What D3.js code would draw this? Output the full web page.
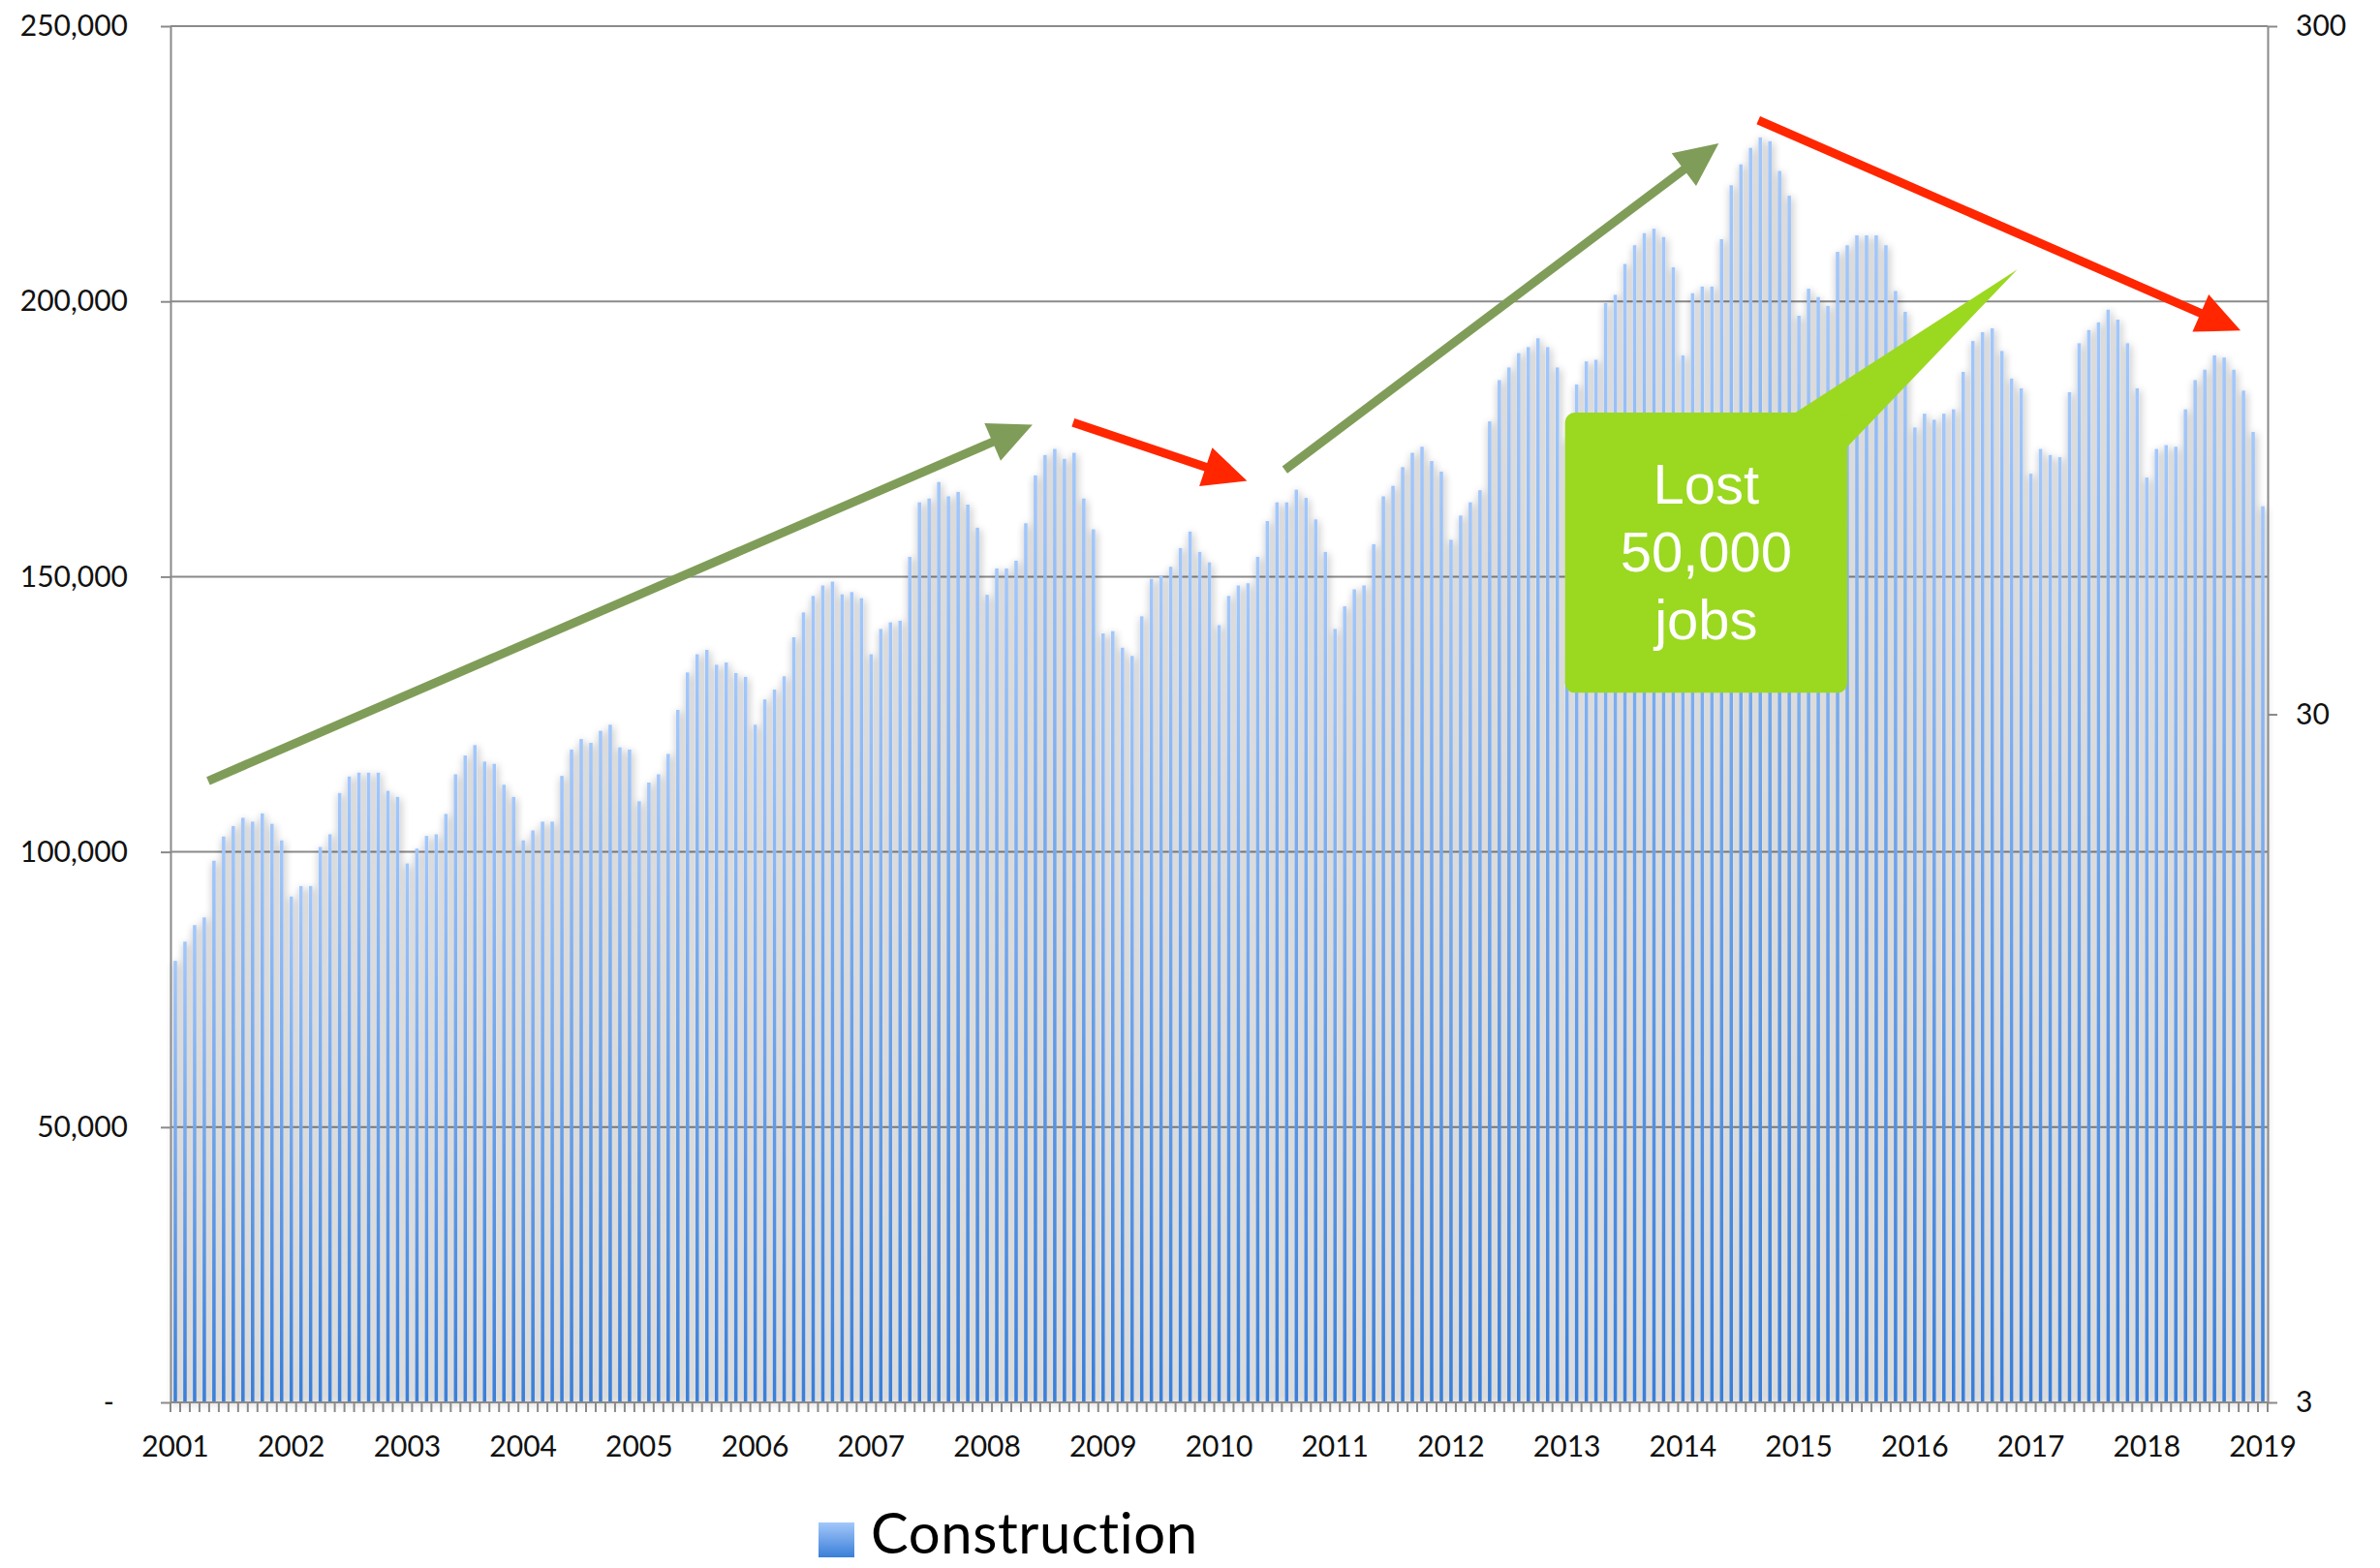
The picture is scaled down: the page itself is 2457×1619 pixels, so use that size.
<!DOCTYPE html>
<html>
<head>
<meta charset="utf-8">
<script src="https://cdn.jsdelivr.net/npm/d3@7"></script>
<style>
  body { margin: 0; background: #fff; }
  svg { display: block; }
  text { font-family: Lato, "Open Sans", sans-serif; }
</style>
</head>
<body>
<svg id="chart" width="2457" height="1619"></svg>
<script>
// year labels on the x axis (one per January)
var years = [2001, 2002, 2003, 2004, 2005, 2006, 2007, 2008, 2009, 2010,
             2011, 2012, 2013, 2014, 2015, 2016, 2017, 2018, 2019];

// monthly construction jobs, Jan 2001 .. Jan 2019
var construction = [
  80200, 83700, 86700, 88100, 98400, 102800, 104700, 106200, 105500, 107000, 105100, 102100,   // 2001
  91900, 93800, 93800, 100900, 103200, 110700, 113700, 114400, 114400, 114400, 111100, 110000, // 2002
  97900, 100600, 102900, 103200, 106900, 114100, 117500, 119400, 116400, 116000, 112200, 110000, // 2003
  102100, 103900, 105500, 105500, 113800, 118600, 120500, 119800, 122000, 123100, 119000, 118600, // 2004
  109200, 112600, 114100, 117800, 125800, 132600, 135900, 136700, 134000, 134400, 132500, 131800, // 2005
  123100, 127700, 129500, 131900, 139000, 143500, 146500, 148400, 149100, 146800, 147200, 146100, // 2006
  135900, 140500, 141700, 142000, 153600, 163500, 164200, 167200, 164600, 165400, 163100, 158900, // 2007
  146700, 151500, 151500, 152900, 159700, 168400, 172100, 173200, 171400, 172500, 164200, 158600, // 2008
  139700, 140100, 137100, 135600, 142800, 149600, 150200, 151800, 155200, 158200, 154500, 152600, // 2009
  141200, 146500, 148400, 148800, 153600, 160100, 163500, 163500, 165800, 164300, 160400, 154500, // 2010
  140500, 144600, 147700, 148400, 155900, 164600, 166500, 169900, 172500, 173600, 171000, 169100, // 2011
  156700, 161100, 163500, 165700, 178200, 185700, 188000, 190600, 191700, 193300, 191700, 188000, // 2012
  175000, 184900, 189100, 189400, 199700, 201200, 206800, 210200, 212400, 213200, 211700, 206200, // 2013
  190200, 201500, 202700, 202700, 211300, 221100, 224900, 227900, 229800, 229100, 223700, 219200, // 2014
  197400, 202300, 200800, 199200, 209000, 210200, 212000, 212000, 212000, 210200, 201900, 198100, // 2015
  177100, 179600, 178500, 179600, 180400, 187200, 192800, 194400, 195100, 191000, 186000, 184200, // 2016
  168700, 173200, 172100, 171700, 183500, 192400, 194800, 196200, 198500, 196700, 192400, 184200, // 2017
  168000, 173200, 173900, 173600, 180400, 185700, 187600, 190200, 189800, 187600, 183800, 176300, // 2018
  162800                                                                                          // 2019
];

var leftTicks = [0, 50000, 100000, 150000, 200000, 250000];
var rightTicks = [3, 30, 300];
var seriesName = "Construction";

// arrows: month offset (m) and value (v) of start and tip
var arrows = [
  {m0: 3.9,   v0: 112900, m1: 89.2,  v1: 177600, color: "#7f9d58"},
  {m0: 93.4,  v0: 178000, m1: 111.4, v1: 167400, color: "#ff2600"},
  {m0: 115.3, v0: 169400, m1: 160.2, v1: 228700, color: "#7f9d58"},
  {m0: 164.3, v0: 232900, m1: 214.2, v1: 194700, color: "#ff2600"}
];
var calloutLines = ["Lost", "50,000", "jobs"];

var W = 2457, H = 1619;
var plot = {left: 176, right: 2341, top: 27, bottom: 1448};

var svg = d3.select("#chart");

var x = d3.scaleBand()
          .domain(d3.range(construction.length))
          .range([plot.left, plot.right])
          .paddingInner(0.64)
          .paddingOuter(0.32);

var y = d3.scaleLinear()
          .domain([0, 250000])
          .range([plot.bottom, plot.top]);

var yRight = d3.scaleLog()
          .domain([3, 300])
          .range([plot.bottom, plot.top]);

function mx(m) { return plot.left + m * x.step(); }

////////////////////////////  DEFS  ////////////////////////////
var defs = svg.append("defs");

var grad = defs.append("linearGradient")
    .attr("id", "barGrad")
    .attr("x1", 0).attr("y1", 0).attr("x2", 0).attr("y2", 1);
grad.append("stop").attr("offset", "0%").attr("stop-color", "#a3c7fa");
grad.append("stop").attr("offset", "100%").attr("stop-color", "#3a7fd8");

var shadow = defs.append("filter")
    .attr("id", "shadow")
    .attr("filterUnits", "userSpaceOnUse")
    .attr("x", 0).attr("y", 0).attr("width", W).attr("height", H);
shadow.append("feGaussianBlur").attr("in", "SourceAlpha").attr("stdDeviation", 4).attr("result", "blur");
shadow.append("feOffset").attr("in", "blur").attr("dx", 1).attr("dy", 2).attr("result", "off");
shadow.append("feComponentTransfer").attr("in", "off").attr("result", "sh")
    .append("feFuncA").attr("type", "linear").attr("slope", 0.4);
var merge = shadow.append("feMerge");
merge.append("feMergeNode").attr("in", "sh");
merge.append("feMergeNode").attr("in", "SourceGraphic");

////////////////////////////  GRID  ////////////////////////////
svg.append("g")
  .selectAll("line")
  .data(leftTicks.filter(function(d) { return d > 0; }))
  .enter().append("line")
    .attr("x1", plot.left).attr("x2", plot.right)
    .attr("y1", function(d) { return y(d); })
    .attr("y2", function(d) { return y(d); })
    .attr("stroke", "#8a8a8a")
    .attr("stroke-width", 2);

////////////////////////////  BARS  ////////////////////////////
svg.append("g")
    .attr("filter", "url(#shadow)")
  .selectAll("rect")
  .data(construction)
  .enter().append("rect")
    .attr("x", function(d, i) { return x(i); })
    .attr("y", function(d) { return y(d); })
    .attr("width", x.bandwidth())
    .attr("height", function(d) { return y(0) - y(d); })
    .attr("fill", "url(#barGrad)");

////////////////////////////  AXES  ////////////////////////////
var leftAxis = svg.append("g")
    .attr("transform", "translate(" + plot.left + ",0)")
    .call(d3.axisLeft(y)
      .tickValues(leftTicks)
      .tickSize(10)
      .tickSizeOuter(0)
      .tickPadding(34)
      .tickFormat(function(d) { return d === 0 ? "-" : d3.format(",")(d); }));

var rightAxis = svg.append("g")
    .attr("transform", "translate(" + plot.right + ",0)")
    .call(d3.axisRight(yRight)
      .tickValues(rightTicks)
      .tickSize(10)
      .tickSizeOuter(0)
      .tickPadding(19)
      .tickFormat(d3.format("d")));

[leftAxis, rightAxis].forEach(function(ax) {
  ax.select(".domain").attr("stroke", "#8a8a8a").attr("stroke-width", 2);
  ax.selectAll(".tick line").attr("stroke", "#8a8a8a").attr("stroke-width", 2);
  ax.selectAll(".tick text")
    .style("font-family", "Lato, 'Open Sans', sans-serif")
    .attr("font-size", 30)
    .attr("fill", "#111");
});
leftAxis.selectAll(".tick text").filter(function(d) { return d === 0; }).attr("dx", -14);

// bottom axis line and month ticks
var bottom = svg.append("g");
bottom.append("line")
    .attr("x1", plot.left).attr("x2", plot.right)
    .attr("y1", y(0)).attr("y2", y(0))
    .attr("stroke", "#8a8a8a").attr("stroke-width", 2);
bottom.selectAll("line.mt")
  .data(d3.range(construction.length + 1))
  .enter().append("line")
    .attr("class", "mt")
    .attr("x1", function(d) { return mx(d); })
    .attr("x2", function(d) { return mx(d); })
    .attr("y1", y(0)).attr("y2", y(0) + 10)
    .attr("stroke", "#8a8a8a").attr("stroke-width", 2);
bottom.selectAll("text")
  .data(years)
  .enter().append("text")
    .attr("x", function(d, i) { return x(i * 12) + x.bandwidth() / 2; })
    .attr("y", y(0) + 56)
    .attr("text-anchor", "middle")
    .attr("font-size", 30)
    .attr("fill", "#111")
    .text(function(d) { return d; });

////////////////////////////  ANNOTATIONS  ////////////////////////////
function arrowPoints(p0, p1, w, L, hw) {
  var dx = p1[0] - p0[0], dy = p1[1] - p0[1];
  var len = Math.sqrt(dx * dx + dy * dy);
  var ux = dx / len, uy = dy / len;
  var nx = -uy, ny = ux;
  var bx = p1[0] - ux * L, by = p1[1] - uy * L;
  return [
    [p0[0] + nx * w / 2, p0[1] + ny * w / 2],
    [bx + nx * w / 2, by + ny * w / 2],
    [bx + nx * hw / 2, by + ny * hw / 2],
    p1,
    [bx - nx * hw / 2, by - ny * hw / 2],
    [bx - nx * w / 2, by - ny * w / 2],
    [p0[0] - nx * w / 2, p0[1] - ny * w / 2]
  ];
}

svg.append("g")
  .selectAll("polygon")
  .data(arrows)
  .enter().append("polygon")
    .attr("points", function(d) {
      return arrowPoints([mx(d.m0), y(d.v0)], [mx(d.m1), y(d.v1)], 9, 45, 42)
        .map(function(p) { return p.join(","); }).join(" ");
    })
    .attr("fill", function(d) { return d.color; });

// callout box with pointer
var box = {x0: mx(144.3), x1: mx(173.5), y0: y(179800), y1: y(128900)};
var callout = svg.append("g");
callout.append("polygon")
    .attr("points", [[mx(191.1), y(205800)], [mx(168.0), box.y0 + 1], [box.x1 - 1, y(173400)]]
      .map(function(p) { return p.join(","); }).join(" "))
    .attr("fill", "#9bd820");
callout.append("rect")
    .attr("x", box.x0).attr("y", box.y0)
    .attr("width", box.x1 - box.x0).attr("height", box.y1 - box.y0)
    .attr("rx", 10)
    .attr("fill", "#9bd820");
callout.selectAll("text")
  .data(calloutLines)
  .enter().append("text")
    .attr("x", (box.x0 + box.x1) / 2)
    .attr("y", function(d, i) { return box.y0 + 94 + i * 70; })
    .attr("text-anchor", "middle")
    .style("font-family", "'Liberation Sans', Arial, sans-serif")
    .attr("font-size", 58)
    .attr("fill", "#fff")
    .text(function(d) { return d; });

////////////////////////////  LEGEND  ////////////////////////////
var legend = svg.append("g");
legend.append("rect")
    .attr("x", 845).attr("y", 1572)
    .attr("width", 37).attr("height", 36)
    .attr("fill", "url(#barGrad)");
legend.append("text")
    .attr("x", 899).attr("y", 1604)
    .attr("font-size", 58)
    .attr("letter-spacing", 0.6)
    .attr("fill", "#000")
    .text(seriesName);
</script>
</body>
</html>
